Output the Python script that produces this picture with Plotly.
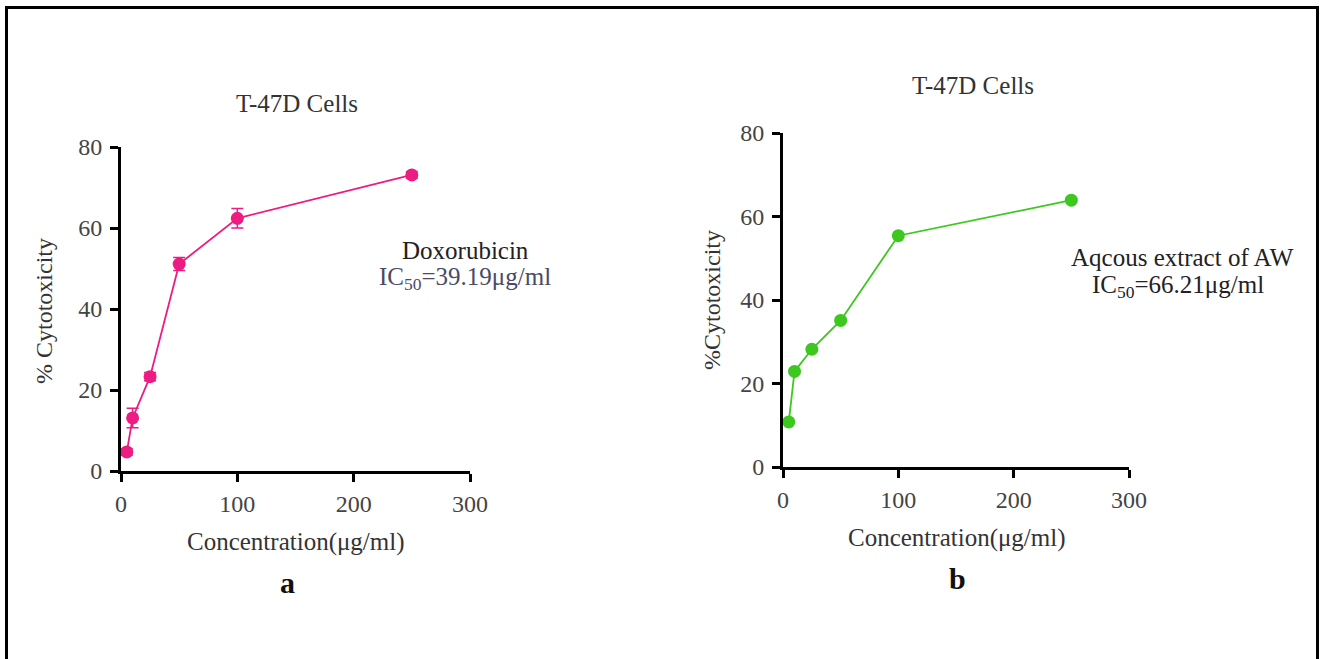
import plotly.graph_objects as go

# ---- data ----
conc = [5, 10, 25, 50, 100, 250]
doxo_cyt = [4.7, 13.1, 23.3, 51.1, 62.4, 73.1]
doxo_err = [0.8, 2.4, 1.0, 1.6, 2.4, 0.8]
aw_cyt = [10.8, 22.9, 28.2, 35.1, 55.4, 63.9]

x_ticks = [0, 100, 200, 300]
y_ticks = [0, 20, 40, 60, 80]

W, H = 1321, 659
FONT = "Liberation Serif"


def px(x):
    return x / W


def py(y):
    return 1 - y / H


fig = go.Figure()

fig.add_trace(go.Scatter(
    x=conc, y=doxo_cyt, mode="lines+markers",
    line=dict(color="#EC1C82", width=1.8),
    marker=dict(color="#EC1C82", size=13),
    error_y=dict(type="data", array=doxo_err, visible=True,
                 color="#EC1C82", thickness=1.5, width=6),
    cliponaxis=False, xaxis="x", yaxis="y", showlegend=False,
))
fig.add_trace(go.Scatter(
    x=conc, y=aw_cyt, mode="lines+markers",
    line=dict(color="#3CC81E", width=1.8),
    marker=dict(color="#3CC81E", size=13),
    cliponaxis=False, xaxis="x2", yaxis="y2", showlegend=False,
))

axis_common = dict(
    showline=True, linecolor="black", linewidth=3,
    ticks="outside", ticklen=8, tickwidth=3, tickcolor="black",
    showgrid=False, zeroline=False,
    tickfont=dict(family=FONT, size=24, color="#444444"),
)

fig.update_layout(
    autosize=True,
    margin=dict(l=0, r=0, t=0, b=0, autoexpand=False),
    paper_bgcolor="white", plot_bgcolor="white",
    xaxis=dict(domain=[px(121), px(470)], range=[0, 300], tickvals=x_ticks,
               anchor="y", ticklabelstandoff=1, **axis_common),
    yaxis=dict(domain=[py(471), py(147)], range=[0, 80], tickvals=y_ticks,
               anchor="x", ticklabelstandoff=3, **axis_common),
    xaxis2=dict(domain=[px(783), px(1129)], range=[0, 300], tickvals=x_ticks,
                anchor="y2", ticklabelstandoff=1, **axis_common),
    yaxis2=dict(domain=[py(467), py(133)], range=[0, 80], tickvals=y_ticks,
                anchor="x2", ticklabelstandoff=3, **axis_common),
)

anns = [
    ("T-47D Cells", 297, 103, 25, "#333333", 0),
    ("T-47D Cells", 973, 86, 25, "#333333", 0),
    ("Concentration(μg/ml)", 296, 542, 25, "#333333", 0),
    ("Concentration(μg/ml)", 957, 538, 25, "#333333", 0),
    ("<b>a</b>", 287, 582, 30, "#111111", 0),
    ("<b>b</b>", 957, 578, 30, "#111111", 0),
    ("% Cytotoxicity", 44, 311, 24, "#333333", -90),
    ("%Cytotoxicity", 712, 300, 24, "#333333", -90),
    ("Doxorubicin", 465, 250, 25, "#222222", 0),
    ("IC<sub>50</sub>=39.19μg/ml", 465, 278, 25, "#4a4a66", 0),
    ("Aqcous extract of AW", 1182, 257, 25, "#222222", 0),
    ("IC<sub>50</sub>=66.21μg/ml", 1178, 286, 25, "#222222", 0),
]
for text, x, y, size, color, angle in anns:
    fig.add_annotation(
        text=text, x=px(x), y=py(y), xref="paper", yref="paper",
        xanchor="center", yanchor="middle", showarrow=False,
        textangle=angle, font=dict(family=FONT, size=size, color=color),
    )

# outer frame (bottom edge lies below the visible area)
fig.add_shape(type="rect", xref="paper", yref="paper",
              x0=px(6.5), x1=px(1317.5), y0=-0.05, y1=py(7.5),
              line=dict(color="black", width=3), fillcolor="rgba(0,0,0,0)")

fig.write_html(
    "out.html",
    config={"displayModeBar": False},
    default_width="1321px; position:fixed; left:0; top:0",
    default_height="659px",
)
